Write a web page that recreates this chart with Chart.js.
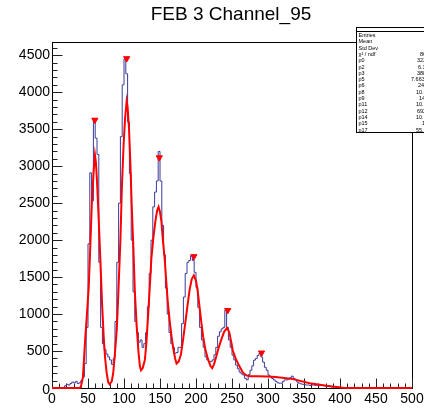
<!DOCTYPE html>
<html><head><meta charset="utf-8">
<script src="https://cdn.jsdelivr.net/npm/chart.js@4"></script>
<style>html,body{margin:0;padding:0;background:#fff}#w{width:424px;height:410px;position:relative}</style>
</head><body><div id="w"><canvas id="c"></canvas></div>
<script>
const chartTitle = "FEB 3 Channel_95";
const binLow = 0;
const binWidth = 2.5;
const histCounts = [
0,0,0,0,0,0,0,0,
30,50,40,60,80,70,90,60,70,100,
150,330,820,1950,2910,2530,3640,3380,3160,1700,
820,600,520,460,420,380,320,400,
900,1700,2500,3400,4100,4450,4250,3600,2900,2000,
1300,900,750,620,650,550,600,750,1100,1550,
2000,2450,2650,2800,3200,2800,2200,1800,1350,1000,
750,600,550,470,480,550,550,870,1230,1550,
1700,1725,1790,1725,1565,1360,1090,820,650,550,
420,380,350,360,380,450,550,700,760,800,
820,1050,820,650,550,445,380,310,260,215,
190,175,130,110,180,240,300,377,400,440,
470,420,350,280,240,175,150,130,110,90,
70,65,65,90,110,110,120,140,160,130,
110,80,65,55,50,45,40,40,35,40,
40,35,40,30,35,40,30,25,30,20,
15,20,15,10,10,5,5,0,0,0,
0,0,0,0,0,0,0,0,0,0,0,0,0,0,0,0,0,
0,0,0,0,0,0,0,0,0,0,0,0,0,0,0,0,0
];
const fitX = [0,38,40,43,46,48.5,51,53.5,55.6,58,59.7,61,62.5,65,67,69.5,72,74,76,78,80,83,85,87.5,90,92,95,97,99.5,101.5,103.7,105,107,109,110.6,113,115,117.5,120,122,123.6,126,129,131,133.6,136,138,141,143.5,146,148,150,152,154,156.5,159,161,163.5,166,168.5,171,173,176,179,182,185,188,191,194,197,200,202.5,205,207.5,210,213,217,220,222.5,225,228,231,235,239,243,246,249,251,255,260,265,270,275,285,300,310,320,335,358,381,404,420,500];
const fitY = [0,0,10,150,650,1000,1360,2000,2570,2950,3150,3050,2800,2250,1770,1150,650,380,200,80,50,90,200,480,800,1250,2000,2700,3300,3650,3880,3800,3500,3000,2500,1900,1320,850,500,300,240,270,380,600,1000,1400,1750,2050,2250,2400,2450,2380,2250,2000,1750,1400,1140,900,700,530,400,330,360,450,650,870,1100,1320,1470,1523,1450,1300,1090,880,690,520,380,300,270,320,420,530,650,760,810,760,620,510,400,300,210,170,160,160,155,150,140,120,65,30,5,0,0];
const peakX = [59.5,103.7,149,197,244,291];
const peakY = [3625,4457,3117,1779,1051,476];
const xTicks = [0,50,100,150,200,250,300,350,400,450,500];
const yTicks = [0,500,1000,1500,2000,2500,3000,3500,4000,4500];
const xMinorStep = 10, yMinorStep = 100;
const statLabels = ["Entries","Mean","Std Dev","\u03c7\u00b2 / ndf","p0","p2","p3","p5","p6","p8","p9","p11","p12","p14","p15","p17"];
const statValues = ["","","","86","323","6.3","388","7.663","247","10.4","149","10.6","692","10.0","1","55.5"];
const statValueX = [0,0,0,420,417,418,417,411,418,416,419,416,417,416,422,416];

const histPts = histCounts.map((v,i)=>({x:binLow+i*binWidth,y:v}));
histPts.push({x:binLow+histCounts.length*binWidth,y:histCounts[histCounts.length-1]});
const fitPts = fitX.map((v,i)=>({x:v,y:fitY[i]}));
const peakPts = peakX.map((v,i)=>({x:v,y:peakY[i]}));

const FONT = '"Liberation Sans", Arial, Helvetica, sans-serif';
const deco = {
  id:'deco',
  beforeDatasetsDraw(chart){
    const {ctx, chartArea:a, scales:{x,y}} = chart;
    ctx.save();
    ctx.strokeStyle='#000'; ctx.lineWidth=1;
    const L=Math.round(a.left)+0.5, R=Math.round(a.right)+0.5, T=Math.round(a.top)+0.5, B=Math.round(a.bottom)+0.5;
    ctx.strokeRect(L,T,R-L,B-T);
    ctx.strokeStyle='#222';
    ctx.beginPath();
    for(let v=0; v<=y.max; v+=yMinorStep){
      const len = (v%500===0)?10:5;
      const py = Math.round(y.getPixelForValue(v))+0.5;
      ctx.moveTo(L,py); ctx.lineTo(L+len,py);
    }
    for(let v=0; v<=x.max; v+=xMinorStep){
      const len = (v%50===0)?10:5;
      const px = Math.round(x.getPixelForValue(v))+0.5;
      ctx.moveTo(px,B); ctx.lineTo(px,B-len);
    }
    ctx.stroke();
    ctx.restore();
  },
  afterDraw(chart){
    const {ctx, chartArea:a, scales:{x,y}} = chart;
    ctx.save();
    ctx.fillStyle='#000';
    ctx.font='14px '+FONT;
    ctx.textAlign='right'; ctx.textBaseline='middle';
    yTicks.forEach(v=>{ ctx.fillText(String(v), a.left-2, y.getPixelForValue(v)+ (v===0?2:0)); });
    ctx.textAlign='center'; ctx.textBaseline='top';
    xTicks.forEach(v=>{ ctx.fillText(String(v), x.getPixelForValue(v), a.bottom+4); });
    ctx.font='19px '+FONT;
    ctx.textAlign='center'; ctx.textBaseline='alphabetic';
    ctx.fillText(chartTitle, 231, 20);
    ctx.fillStyle='#fff';
    ctx.fillRect(356,27,80,106);
    ctx.strokeStyle='#000'; ctx.lineWidth=1;
    ctx.strokeRect(356.5,27.5,80,105);
    ctx.beginPath(); ctx.moveTo(356,31.5); ctx.lineTo(424,31.5); ctx.stroke();
    ctx.fillStyle='#000';
    ctx.font='5.5px '+FONT;
    ctx.textAlign='left'; ctx.textBaseline='middle';
    statLabels.forEach((s,i)=>{
      const ry = 35.5 + i*6.3;
      ctx.fillText(s, 358.5, ry);
      if(statValues[i]) ctx.fillText(statValues[i], statValueX[i], ry);
    });
    ctx.restore();
  }
};

new Chart(document.getElementById('c'), {
  type:'scatter',
  data:{datasets:[
    {data:histPts, showLine:true, stepped:'after', borderColor:'#3a3a9a', borderWidth:1, pointRadius:0, clip:1, order:3},
    {data:fitPts, showLine:true, borderColor:'#ff0000', borderWidth:2, pointRadius:0, tension:0, clip:2, order:2},
    {data:peakPts, showLine:false, pointStyle:'triangle', rotation:180, radius:3.6, pointRadius:3.6, backgroundColor:'#ff0000', borderColor:'#ff0000', borderWidth:1, clip:false, order:1}
  ]},
  options:{
    responsive:true, maintainAspectRatio:false, devicePixelRatio:1, animation:false,
    layout:{padding:{left:52,right:12,top:42,bottom:22}},
    plugins:{legend:{display:false}, tooltip:{enabled:false}, title:{display:false}},
    events:[],
    scales:{
      x:{type:'linear', min:0, max:500, display:false},
      y:{type:'linear', min:0, max:4680, display:false}
    }
  },
  plugins:[deco]
});
</script>
</body></html>
